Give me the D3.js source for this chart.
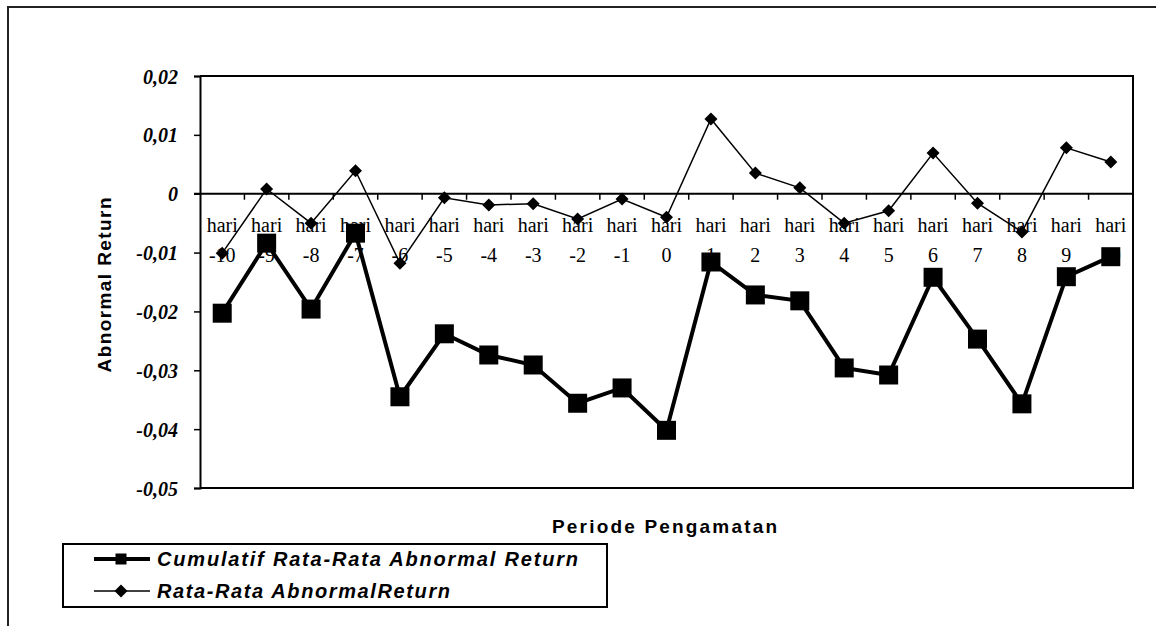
<!DOCTYPE html>
<html>
<head>
<meta charset="utf-8">
<script src="https://cdn.jsdelivr.net/npm/d3@7"></script>
<style>
  body { margin: 0; background: #fff; }
</style>
</head>
<body>
<svg id="chart"></svg>
<script>
// categories (hari -10 ... hari 10)
const periods = [-10, -9, -8, -7, -6, -5, -4, -3, -2, -1, 0, 1, 2, 3, 4, 5, 6, 7, 8, 9, 10];

// Cumulatif Rata-Rata Abnormal Return
const car = [-0.0203, -0.0084, -0.0196, -0.0067, -0.0345, -0.0238, -0.0274, -0.0291,
  -0.0356, -0.0330, -0.0402, -0.0116, -0.0172, -0.0182, -0.0296, -0.0308, -0.0142,
  -0.0247, -0.0357, -0.0141, -0.0107];

// Rata-Rata Abnormal Return
const ar = [-0.0101, 0.0008, -0.0050, 0.0039, -0.0118, -0.0007, -0.0019, -0.0017,
  -0.0043, -0.0009, -0.0040, 0.0127, 0.0035, 0.0010, -0.0050, -0.0029, 0.0069,
  -0.0016, -0.0065, 0.0078, 0.0054];

const yTicks = [0.02, 0.01, 0, -0.01, -0.02, -0.03, -0.04, -0.05];

const width = 1156;
const height = 626;
const plot = { left: 200, top: 76, right: 1133, bottom: 488 };

const serif = "'Liberation Serif', 'Times New Roman', serif";
const sans = "'Liberation Sans', Arial, sans-serif";

const svg = d3.select("#chart").attr("width", width).attr("height", height);

// outer frame of the chart object (runs off the page on right/bottom)
svg.append("rect")
  .attr("x", 8).attr("y", 7)
  .attr("width", 1300).attr("height", 800)
  .attr("fill", "white")
  .attr("stroke", "#222")
  .attr("stroke-width", 2);

const x = d3.scaleBand()
  .domain(periods)
  .range([plot.left, plot.right])
  .padding(0);

const y = d3.scaleLinear()
  .domain([-0.05, 0.02])
  .range([plot.bottom, plot.top]);

const cx = (d) => x(d) + x.bandwidth() / 2;
const fmt = (v) => (v === 0 ? "0" : d3.format(".2f")(v).replace(".", ",").replace("−", "-"));

// plot border (top, right, bottom)
svg.append("path")
  .attr("d", `M${plot.left},${plot.top}H${plot.right}V${plot.bottom}H${plot.left}`)
  .attr("fill", "none")
  .attr("stroke", "black")
  .attr("stroke-width", 2);

// y axis
const yAxis = svg.append("g")
  .attr("transform", `translate(${plot.left},0)`)
  .call(d3.axisLeft(y).tickValues(yTicks).tickSize(6).tickFormat(fmt))
  .attr("font-family", serif)
  .attr("font-size", 20);
yAxis.select(".domain").attr("stroke-width", 2);
yAxis.selectAll(".tick line").attr("stroke-width", 1.5);
yAxis.selectAll(".tick text")
  .attr("x", -22)
  .attr("dy", "0.35em")
  .attr("font-weight", "bold")
  .attr("font-style", "italic")
  .attr("fill", "black");

// category labels, two lines each
const catLabels = svg.append("g")
  .attr("font-family", serif)
  .attr("font-size", 20)
  .attr("text-anchor", "middle");
catLabels.selectAll(".hari")
  .data(periods)
  .enter()
  .append("text")
  .attr("class", "hari")
  .attr("x", (d) => cx(d))
  .attr("y", 232)
  .text("hari");
catLabels.selectAll(".num")
  .data(periods)
  .enter()
  .append("text")
  .attr("class", "num")
  .attr("x", (d) => cx(d))
  .attr("y", 262)
  .text((d) => d);

// zero line with ticks between categories
svg.append("line")
  .attr("x1", plot.left - 6).attr("x2", plot.right)
  .attr("y1", y(0)).attr("y2", y(0))
  .attr("stroke", "black")
  .attr("stroke-width", 2);
svg.selectAll(".xtick")
  .data(periods.slice(1))
  .enter()
  .append("line")
  .attr("class", "xtick")
  .attr("x1", (d) => x(d)).attr("x2", (d) => x(d))
  .attr("y1", y(0)).attr("y2", y(0) + 6)
  .attr("stroke", "black")
  .attr("stroke-width", 1.5);

// series lines
const line = d3.line()
  .x((d, i) => cx(periods[i]))
  .y((d) => y(d));

svg.append("path")
  .datum(car)
  .attr("d", line)
  .attr("fill", "none")
  .attr("stroke", "black")
  .attr("stroke-width", 4)
  .attr("stroke-linejoin", "miter");

svg.append("path")
  .datum(ar)
  .attr("d", line)
  .attr("fill", "none")
  .attr("stroke", "black")
  .attr("stroke-width", 1.5);

const square = d3.symbol().type(d3.symbolSquare).size(19 * 19);
const diamond = (s) => `M0,${-s}L${s},0L0,${s}L${-s},0Z`;

svg.selectAll(".sq")
  .data(car)
  .enter()
  .append("path")
  .attr("class", "sq")
  .attr("d", square)
  .attr("transform", (d, i) => `translate(${cx(periods[i])},${y(d)})`)
  .attr("fill", "black");

svg.selectAll(".dm")
  .data(ar)
  .enter()
  .append("path")
  .attr("class", "dm")
  .attr("d", diamond(6.5))
  .attr("transform", (d, i) => `translate(${cx(periods[i])},${y(d)})`)
  .attr("fill", "black");

// axis titles
svg.append("text")
  .attr("transform", `translate(111,285) rotate(-90)`)
  .attr("text-anchor", "middle")
  .attr("textLength", 175)
  .attr("lengthAdjust", "spacing")
  .attr("font-family", sans)
  .attr("font-size", 19)
  .attr("font-weight", "bold")
  .text("Abnormal Return");

svg.append("text")
  .attr("x", 552)
  .attr("y", 533)
  .attr("textLength", 225)
  .attr("lengthAdjust", "spacing")
  .attr("font-family", sans)
  .attr("font-size", 19)
  .attr("font-weight", "bold")
  .text("Periode Pengamatan");

// legend
const legendItems = [
  { name: "Cumulatif Rata-Rata Abnormal Return", len: 421, width: 4, marker: "square" },
  { name: "Rata-Rata AbnormalReturn", len: 293, width: 1.5, marker: "diamond" },
];

const legend = svg.append("g");
legend.append("rect")
  .attr("x", 63).attr("y", 544)
  .attr("width", 544).attr("height", 63)
  .attr("fill", "white")
  .attr("stroke", "black")
  .attr("stroke-width", 2);

const rows = legend.selectAll(".row")
  .data(legendItems)
  .enter()
  .append("g")
  .attr("class", "row")
  .attr("transform", (d, i) => `translate(0,${559 + i * 32})`);

rows.append("line")
  .attr("x1", 94).attr("x2", 150)
  .attr("y1", 0).attr("y2", 0)
  .attr("stroke", "black")
  .attr("stroke-width", (d) => d.width);

rows.append("path")
  .attr("d", (d) => d.marker === "square"
    ? d3.symbol().type(d3.symbolSquare).size(11 * 11)()
    : diamond(6.5))
  .attr("transform", "translate(121,0)")
  .attr("fill", "black");

rows.append("text")
  .attr("x", 157)
  .attr("y", 7)
  .attr("textLength", (d) => d.len)
  .attr("lengthAdjust", "spacing")
  .attr("font-family", sans)
  .attr("font-size", 20)
  .attr("font-weight", "bold")
  .attr("font-style", "italic")
  .text((d) => d.name);
</script>
</body>
</html>
